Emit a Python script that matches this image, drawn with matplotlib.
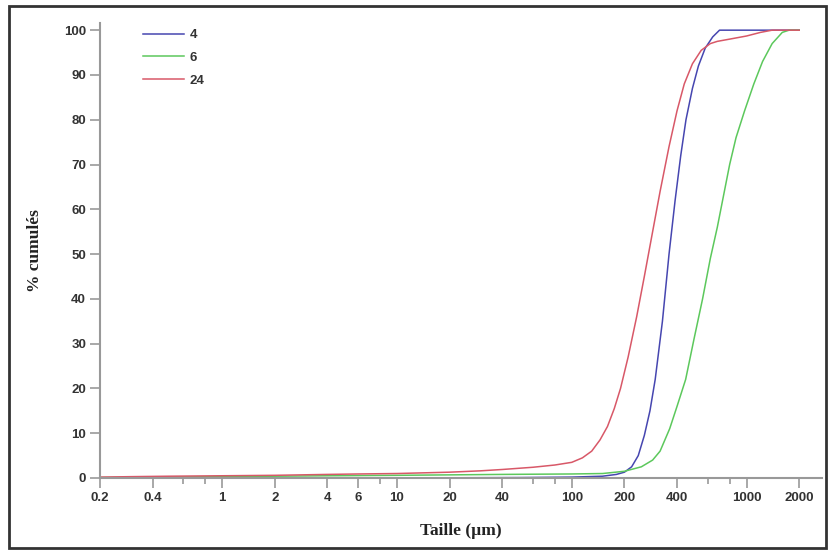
import matplotlib
matplotlib.use("Agg")
import matplotlib.pyplot as plt
from matplotlib.patches import Rectangle
from matplotlib.ticker import FixedLocator, NullFormatter

# ---- data ----
x_24 = [0.2, 0.3, 0.5, 1, 2, 4, 6, 10, 20, 30, 40, 60, 80, 100, 115, 130, 145, 160,
        175, 190, 210, 235, 260, 290, 320, 360, 400, 440, 490, 550, 620, 680, 800,
        1000, 1200, 1400, 2000]
y_24 = [0.2, 0.3, 0.4, 0.5, 0.6, 0.8, 0.9, 1.0, 1.3, 1.6, 1.9, 2.4, 2.9, 3.5, 4.5,
        6, 8.5, 11.5, 15.5, 20, 27, 36, 45, 55, 64, 74, 82, 88, 92.5, 95.5, 97,
        97.5, 98, 98.7, 99.5, 100, 100]

x_4 = [0.2, 1, 10, 50, 100, 150, 180, 200, 220, 240, 260, 280, 300, 330, 360, 390,
       420, 450, 490, 530, 580, 640, 700, 760, 2000]
y_4 = [0, 0, 0, 0.1, 0.2, 0.4, 0.8, 1.3, 2.5, 5, 9.5, 15, 22, 35, 50, 62, 72, 80,
       87, 92, 96, 98.5, 100, 100, 100]

x_6 = [0.2, 0.4, 1, 2, 4, 10, 20, 40, 100, 150, 200, 250, 290, 320, 363, 400, 448,
       500, 560, 620, 680, 729, 800, 870, 974, 1100, 1234, 1400, 1600, 1750, 2000]
y_6 = [0.1, 0.2, 0.3, 0.4, 0.5, 0.6, 0.7, 0.8, 0.9, 1.0, 1.5, 2.5, 4, 6, 11, 16, 22,
       31, 40, 49, 56, 62, 70, 76, 82, 88, 93, 97, 99.5, 100, 100]

series = [("4", x_4, y_4, "#4646b0"),
          ("6", x_6, y_6, "#5cc85c"),
          ("24", x_24, y_24, "#d85868")]

major_ticks = [0.2, 0.4, 1, 2, 4, 6, 10, 20, 40, 100, 200, 400, 1000, 2000]
major_labels = ["0.2", "0.4", "1", "2", "4", "6", "10", "20", "40", "100", "200",
                "400", "1000", "2000"]
minor_ticks = [0.6, 0.8, 8, 60, 80, 600, 800]
y_ticks = list(range(0, 101, 10))

# ---- figure ----
fig = plt.figure(figsize=(8.34, 5.51), dpi=100)
ax = fig.add_axes([100/834, 1-478/551, 722/834, 455/551])

for name, xs, ys, c in series:
    ax.plot(xs, ys, color=c, lw=1.1, label=name, clip_on=False)

ax.set_xscale("log")
ax.set_xlim(0.2, 2700)
ax.set_ylim(0, 101.6)

ax.xaxis.set_major_locator(FixedLocator(major_ticks))
ax.xaxis.set_minor_locator(FixedLocator(minor_ticks))
ax.xaxis.set_minor_formatter(NullFormatter())
ax.set_xticklabels(major_labels)
ax.set_yticks(y_ticks)

for s in ["top", "right"]:
    ax.spines[s].set_visible(False)
for s in ["left", "bottom"]:
    ax.spines[s].set_color("#999999")
    ax.spines[s].set_linewidth(1.5)

ax.tick_params(axis="both", which="major", colors="#999999", width=1.2, length=7,
               labelcolor="#333333", pad=3)
ax.tick_params(axis="x", which="minor", colors="#999999", width=1.2, length=4)
for lab in ax.get_xticklabels() + ax.get_yticklabels():
    lab.set_fontfamily("Liberation Sans")
    lab.set_fontsize(9.5)
    lab.set_fontweight("bold")

label_font = dict(family="Liberation Serif", size=12.5, weight="bold", color="#222222")
ax.set_xlabel("Taille (µm)", fontdict=label_font, labelpad=14)
ax.set_ylabel("% cumulés", fontdict=label_font, labelpad=15)

leg = ax.legend(loc="upper left", bbox_to_anchor=(43/722, (478-29)/455),
                frameon=False, borderpad=0, borderaxespad=0, handlelength=3.1,
                handletextpad=0.45, labelspacing=0.8,
                prop=dict(family="Liberation Sans", size=9.5, weight="bold"))
for t in leg.get_texts():
    t.set_color("#333333")

fig.patches.append(Rectangle((9/834, 3/551), 817/834, 542/551, transform=fig.transFigure,
                             fill=False, edgecolor="#333333", linewidth=2))

fig.savefig("out.png", dpi=100)
